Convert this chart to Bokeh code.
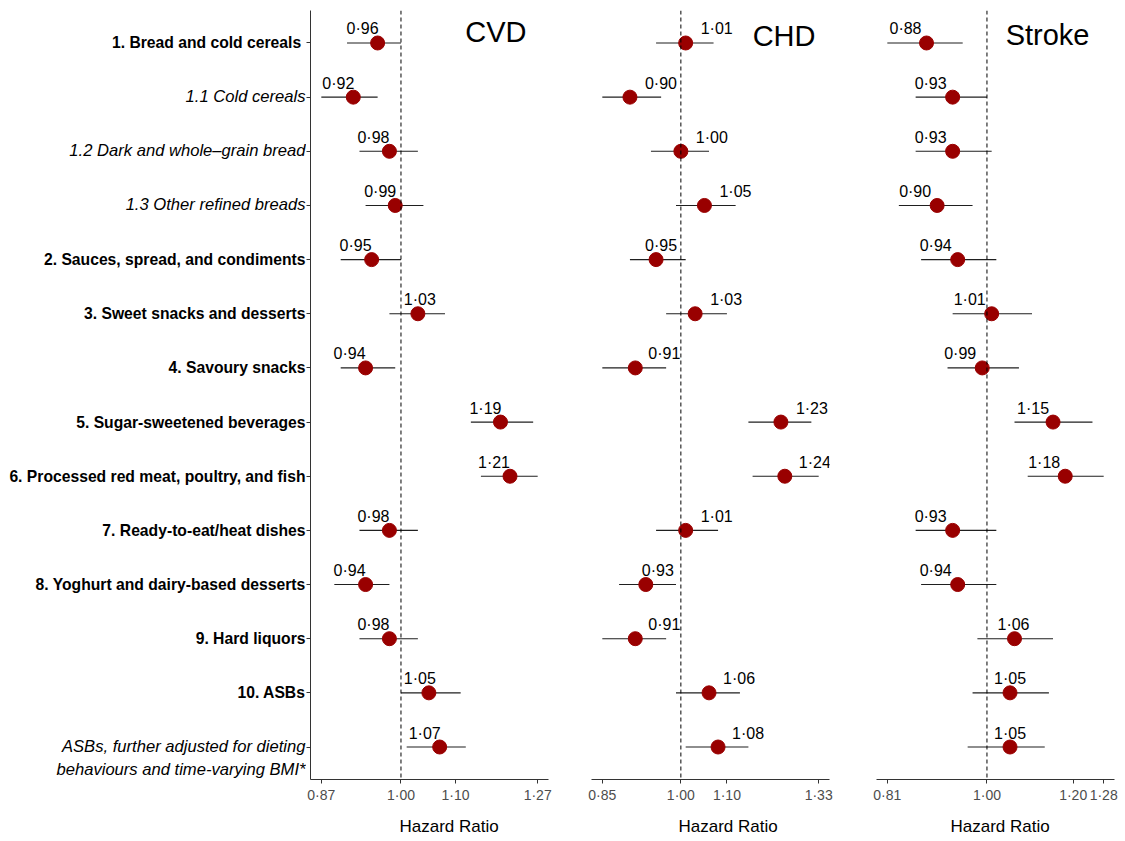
import math
from bokeh.plotting import figure
from bokeh.layouts import row
from bokeh.models import ColumnDataSource, Range1d, FixedTicker, Span, CustomJSTickFormatter, Title
from bokeh.core.properties import value
from bokeh.embed import file_html
from bokeh.resources import INLINE

# ---------------- data ----------------
categories = [
    "1.  Bread and cold cereals",
    "1.1 Cold cereals",
    "1.2 Dark and whole\u2013grain bread",
    "1.3 Other refined breads",
    "2. Sauces, spread, and condiments",
    "3. Sweet snacks and desserts",
    "4. Savoury snacks",
    "5. Sugar-sweetened beverages",
    "6. Processed red meat, poultry, and fish",
    "7. Ready-to-eat/heat dishes",
    "8. Yoghurt and dairy-based desserts",
    "9. Hard liquors",
    "10. ASBs",
    "ASBs, further adjusted for dieting\nbehaviours and time-varying BMI*",
]
category_bold = [True, False, False, False, True, True, True, True, True, True, True, True, True, False]

cvd_hr = [0.96, 0.92, 0.98, 0.99, 0.95, 1.03, 0.94, 1.19, 1.21, 0.98, 0.94, 0.98, 1.05, 1.07]
cvd_lo = [0.91, 0.87, 0.93, 0.94, 0.90, 0.98, 0.90, 1.13, 1.15, 0.93, 0.89, 0.93, 1.00, 1.01]
cvd_hi = [1.00, 0.96, 1.03, 1.04, 1.00, 1.08, 0.99, 1.26, 1.27, 1.03, 0.98, 1.03, 1.11, 1.12]
cvd_ticks = [0.87, 1.00, 1.10, 1.27]

chd_hr = [1.01, 0.90, 1.00, 1.05, 0.95, 1.03, 0.91, 1.23, 1.24, 1.01, 0.93, 0.91, 1.06, 1.08]
chd_lo = [0.95, 0.85, 0.94, 0.99, 0.90, 0.97, 0.85, 1.15, 1.16, 0.95, 0.88, 0.85, 0.99, 1.01]
chd_hi = [1.07, 0.96, 1.06, 1.12, 1.01, 1.10, 0.97, 1.31, 1.33, 1.08, 0.99, 0.97, 1.13, 1.15]
chd_ticks = [0.85, 1.00, 1.10, 1.33]

stroke_hr = [0.88, 0.93, 0.93, 0.90, 0.94, 1.01, 0.99, 1.15, 1.18, 0.93, 0.94, 1.06, 1.05, 1.05]
stroke_lo = [0.81, 0.86, 0.86, 0.83, 0.87, 0.93, 0.92, 1.06, 1.09, 0.86, 0.87, 0.98, 0.97, 0.96]
stroke_hi = [0.95, 1.00, 1.01, 0.97, 1.02, 1.10, 1.07, 1.25, 1.28, 1.02, 1.02, 1.15, 1.14, 1.13]
stroke_ticks = [0.81, 1.00, 1.20, 1.28]

x_axis_title = "Hazard Ratio"

# label nudges (screen px, horizontal) for the value labels
cvd_nudge = [-15, -15, -16, -15, -16, 2, -16, -15, -16, -16, -16, -16, -9, -15]
chd_nudge = [31, 31, 31, 31, 5, 31, 29, 31, 30, 31, 12, 29, 30, 30]
stroke_nudge = [-21, -22, -22, -22, -22, -22, -22, -20, -21, -22, -22, -1, 0, 0]

# ---------------- layout constants ----------------
FONT = "Liberation Sans"
FRAME_W = 238
FRAME_H = 769
TOP = 10
BOTTOM = 60
XLAB_HALF_W = 49
rows = list(range(len(categories)))
Y_RANGE = (len(categories) - 1 + 0.6, -0.6)


def fmt(v):
    return f"{v:.2f}".replace(".", "\u00b7")


def panel(hr, lo, hi, ticks, nudge, title, title_dx, title_dy, xlab_dx, left_axis, bl, br):
    a = min(math.log(v) for v in lo)
    b = max(math.log(v) for v in hi)
    pad = 0.05 * (b - a)
    kw = {}
    if not left_axis:
        kw["y_axis_location"] = None
    p = figure(frame_width=FRAME_W, frame_height=FRAME_H, x_axis_type="log",
               x_range=Range1d(math.exp(a - pad), math.exp(b + pad)),
               y_range=Range1d(*Y_RANGE),
               output_backend="svg", toolbar_location=None,
               min_border_left=bl, min_border_right=br, min_border_top=TOP, min_border_bottom=BOTTOM,
               background_fill_color="white", border_fill_color="white", **kw)
    p.outline_line_color = None
    p.grid.visible = False

    src = ColumnDataSource(dict(y=rows, hr=hr, lo=lo, hi=hi,
                                lab=[fmt(v) for v in hr], dx=nudge))
    p.add_layout(Span(location=1.0, dimension="height", line_dash="4 3",
                      line_color="black", line_width=1))
    p.segment(x0="lo", y0="y", x1="hi", y1="y", source=src, line_color="#1f1f1f", line_width=1.1)
    p.scatter(x="hr", y="y", size=14, source=src, fill_color="#990000", line_color="#990000")
    p.text(x="hr", y="y", text="lab", x_offset="dx", y_offset=-14, source=src,
           text_align="center", text_baseline="alphabetic",
           text_font=value(FONT), text_font_size="16px", text_color="black")

    p.text(x=[p.x_range.end], y=[0], text=[title], x_offset=title_dx, y_offset=title_dy,
           text_align="right", text_baseline="alphabetic",
           text_font=value(FONT), text_font_size="29px", text_color="black")

    ax = p.xaxis[0]
    ax.ticker = FixedTicker(ticks=ticks)
    ax.formatter = CustomJSTickFormatter(code="return tick.toFixed(2).replace('.', '\u00b7');")
    ax.major_label_text_font = FONT
    ax.major_label_text_font_size = "14px"
    ax.major_label_text_color = "#4d4d4d"
    ax.major_label_standoff = 3
    ax.major_tick_out = 4
    ax.major_tick_in = 0
    ax.major_tick_line_color = "#333333"
    ax.minor_tick_line_color = None
    ax.axis_line_color = "#333333"

    # x-axis title below the axis, nudged right like the reference
    p.add_layout(Title(text=x_axis_title, align="left",
                       offset=FRAME_W // 2 - XLAB_HALF_W + xlab_dx, standoff=19,
                       text_font=FONT, text_font_size="17px", text_font_style="normal",
                       text_color="black"), "below")

    if left_axis:
        ya = p.yaxis[0]
        ya.ticker = FixedTicker(ticks=rows)
        ya.formatter = CustomJSTickFormatter(code="return '';")
        ya.major_label_standoff = 0
        ya.major_tick_out = 4
        ya.major_tick_in = 0
        ya.minor_tick_line_color = None
        ya.major_tick_line_color = "#333333"
        ya.axis_line_color = "#333333"
    return p


# ---------------- category labels ----------------
lf = figure(frame_width=306, frame_height=FRAME_H, x_range=Range1d(0, 1), y_range=Range1d(*Y_RANGE),
            output_backend="svg", toolbar_location=None,
            min_border_left=0, min_border_right=0, min_border_top=TOP, min_border_bottom=BOTTOM,
            x_axis_location=None, y_axis_location=None)
lf.outline_line_color = None
lf.grid.visible = False

bold_src = ColumnDataSource(dict(
    x=[1] * sum(category_bold),
    y=[r for r, b in zip(rows, category_bold) if b],
    t=[c for c, b in zip(categories, category_bold) if b]))
ital_src = ColumnDataSource(dict(
    x=[1] * (len(categories) - sum(category_bold)),
    y=[r for r, b in zip(rows, category_bold) if not b],
    t=[c for c, b in zip(categories, category_bold) if not b]))
lf.text(x="x", y="y", text="t", source=bold_src, x_offset=-1, text_align="right",
        text_baseline="middle", text_font=value(FONT), text_font_size="15.7px",
        text_font_style="bold", text_color="black")
lf.text(x="x", y="y", text="t", source=ital_src, x_offset=-1, y_offset=-10, text_align="right",
        text_baseline="top", text_font=value(FONT), text_font_size="16.6px",
        text_font_style="italic", text_color="black", text_line_height=1.2)

p1 = panel(cvd_hr, cvd_lo, cvd_hi, cvd_ticks, cvd_nudge, "CVD", -22, -10.5, 19, True, 0, 21)
p2 = panel(chd_hr, chd_lo, chd_hi, chd_ticks, chd_nudge, "CHD", -14, -7, 17, False, 22, 23)
p3 = panel(stroke_hr, stroke_lo, stroke_hi, stroke_ticks, stroke_nudge, "Stroke", -25, -7.5, 4, False, 24, 8)

layout = row(lf, p1, p2, p3)
open("out.html", "w").write(file_html(layout, INLINE))
